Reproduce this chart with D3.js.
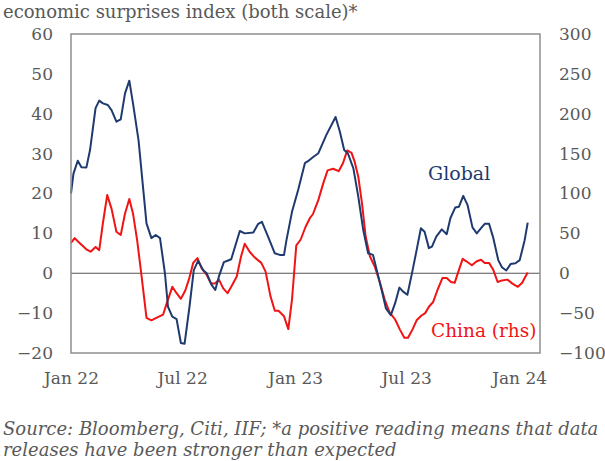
<!DOCTYPE html>
<html lang="en">
<head>
    <meta charset="UTF-8">
    <title>economic surprises index</title>
    <style>
        body { margin: 0; background: #fff; }
        svg { display: block; }
    </style>
</head>
<body>
    <script src="https://d3js.org/d3.v7.min.js"></script>
    <script>
        // Global surprise index (left axis)
        const globalDates = ['2022-01-01', '2022-01-05', '2022-01-12', '2022-01-18', '2022-01-26', '2022-02-01',
            '2022-02-10', '2022-02-16', '2022-02-22', '2022-03-02', '2022-03-08', '2022-03-16', '2022-03-23',
            '2022-03-30', '2022-04-06', '2022-04-12', '2022-04-21', '2022-05-04', '2022-05-12', '2022-05-19',
            '2022-05-26', '2022-06-03', '2022-06-08', '2022-06-15', '2022-06-22', '2022-06-29', '2022-07-05',
            '2022-07-13', '2022-07-20', '2022-07-27', '2022-08-04', '2022-08-10', '2022-08-18', '2022-08-24',
            '2022-08-30', '2022-09-07', '2022-09-14', '2022-09-19', '2022-10-03', '2022-10-11', '2022-10-25',
            '2022-11-02', '2022-11-08', '2022-11-18', '2022-11-29', '2022-12-07', '2022-12-14', '2022-12-18',
            '2022-12-27', '2023-01-06', '2023-01-17', '2023-01-22', '2023-01-30', '2023-02-08', '2023-02-21',
            '2023-03-08', '2023-03-15', '2023-03-22', '2023-03-28', '2023-04-06', '2023-04-14', '2023-04-22',
            '2023-04-30', '2023-05-08', '2023-05-14', '2023-05-22', '2023-05-29', '2023-06-06', '2023-06-13',
            '2023-06-20', '2023-06-26', '2023-07-03', '2023-07-11', '2023-07-18', '2023-07-25', '2023-07-31',
            '2023-08-07', '2023-08-12', '2023-08-19', '2023-08-28', '2023-09-05', '2023-09-11', '2023-09-19',
            '2023-09-25', '2023-10-02', '2023-10-09', '2023-10-17', '2023-10-24', '2023-11-01', '2023-11-06',
            '2023-11-13', '2023-11-20', '2023-11-28', '2023-12-04', '2023-12-11', '2023-12-18', '2023-12-26',
            '2024-01-02', '2024-01-10', '2024-01-15'];
        const globalValues = [20.0, 25.0, 28.2, 26.6, 26.5, 30.9,
            41.4, 43.3, 42.6, 42.2, 40.9, 38.0, 38.6,
            45.1, 48.3, 42.6, 33.4, 12.5, 8.8, 9.6,
            8.8, 0.0, -8.4, -10.9, -11.5, -17.5, -17.7,
            -8.4, 0.8, 3.1, 0.8, 0.0, -2.9, -4.2,
            -0.8, 2.8, 3.2, 3.5, 10.6, 10.0, 10.2,
            12.4, 12.9, 9.2, 5.0, 4.6, 4.6, 8.3,
            15.4, 20.9, 27.6, 28.1, 29.1, 30.1, 34.7,
            39.2, 35.5, 30.9, 30.1, 26.3, 19.2, 10.9,
            5.0, 4.6, 0.8, -4.2, -8.8, -10.5, -7.5,
            -3.6, -4.6, -5.4, 0.4, 5.8, 11.3, 10.4,
            6.3, 6.7, 9.2, 11.0, 9.8, 13.8, 16.5,
            16.7, 19.4, 17.1, 11.5, 10.0, 11.5, 12.4,
            12.4, 8.8, 3.3, 1.5, 0.7, 2.3, 2.5,
            3.3, 8.3, 12.7];

        // China surprise index (right axis)
        const chinaDates = ['2022-01-01', '2022-01-07', '2022-01-15', '2022-01-26', '2022-02-02', '2022-02-10',
            '2022-02-16', '2022-02-22', '2022-03-01', '2022-03-08', '2022-03-16', '2022-03-23', '2022-03-30',
            '2022-04-06', '2022-04-12', '2022-04-19', '2022-04-26', '2022-05-04', '2022-05-12', '2022-05-20',
            '2022-05-31', '2022-06-05', '2022-06-15', '2022-06-22', '2022-06-29', '2022-07-06', '2022-07-12',
            '2022-07-19', '2022-07-26', '2022-08-02', '2022-08-10', '2022-08-17', '2022-08-23', '2022-08-30',
            '2022-09-06', '2022-09-13', '2022-09-19', '2022-09-28', '2022-10-05', '2022-10-11', '2022-10-19',
            '2022-10-27', '2022-11-07', '2022-11-14', '2022-11-22', '2022-11-29', '2022-12-05', '2022-12-14',
            '2022-12-21', '2022-12-27', '2023-01-03', '2023-01-10', '2023-01-18', '2023-01-25', '2023-01-30',
            '2023-02-08', '2023-02-16', '2023-02-23', '2023-03-04', '2023-03-13', '2023-03-20', '2023-03-27',
            '2023-04-03', '2023-04-08', '2023-04-14', '2023-04-20', '2023-04-26', '2023-05-03', '2023-05-11',
            '2023-05-19', '2023-05-27', '2023-06-04', '2023-06-13', '2023-06-21', '2023-06-28', '2023-07-04',
            '2023-07-11', '2023-07-18', '2023-07-26', '2023-08-01', '2023-08-07', '2023-08-14', '2023-08-21',
            '2023-08-29', '2023-09-05', '2023-09-12', '2023-09-18', '2023-09-24', '2023-10-01', '2023-10-07',
            '2023-10-16', '2023-10-24', '2023-10-31', '2023-11-06', '2023-11-13', '2023-11-20', '2023-11-27',
            '2023-12-04', '2023-12-13', '2023-12-21', '2023-12-30', '2024-01-06', '2024-01-10', '2024-01-15'];
        const chinaValues = [38, 44, 38, 30, 27, 33,
            29, 63, 98, 81, 52, 48, 75,
            93, 75, 40, -4, -56, -59, -56,
            -52, -40, -17, -25, -32, -22, -8,
            13, 19, 6, -2, -13, -13, -8,
            -19, -25, -17, -4, 21, 37, 27,
            20, 13, 2, -29, -47, -47, -54,
            -70, -33, 35, 42, 58, 69, 74,
            92, 113, 129, 131, 128, 138, 154,
            151, 140, 121, 88, 46, 21, 8,
            -11, -33, -49, -58, -71, -81, -81,
            -71, -59, -53, -50, -42, -36, -21,
            -6, -6, -11, -12, 2, 18, 15,
            10, 15, 17, 13, 13, 4, -11,
            -9, -8, -13, -17, -12, -6, 1];

        const leftTicks = [-20, -10, 0, 10, 20, 30, 40, 50, 60];
        const rightTicks = [-100, -50, 0, 50, 100, 150, 200, 250, 300];
        const xTickDates = ['2022-01-01', '2022-07-01', '2023-01-01', '2023-07-01', '2024-01-01'];
        const xTickLabels = ['Jan 22', 'Jul 22', 'Jan 23', 'Jul 23', 'Jan 24'];

        const width = 605;
        const height = 461;
        const plot = { left: 71, right: 540, top: 34, bottom: 353 };
        const font = "'DejaVu Serif', Georgia, serif";
        const grey = '#595959';
        const navy = '#1f3a6e';
        const red = '#f01414';

        const parse = d3.timeParse('%Y-%m-%d');

        const svg = d3.select('body').append('svg')
            .attr('width', width)
            .attr('height', height);

        const x = d3.scaleTime()
            .domain([parse('2022-01-01'), parse('2024-02-04')])
            .range([plot.left, plot.right]);
        const yLeft = d3.scaleLinear().domain([-20, 60]).range([plot.bottom, plot.top]);
        const yRight = d3.scaleLinear().domain([-100, 300]).range([plot.bottom, plot.top]);

        // title
        svg.append('text')
            .attr('x', 3).attr('y', 18)
            .attr('font-family', font).attr('font-size', 18)
            .attr('fill', grey)
            .text('economic surprises index (both scale)*');

        // axes (labels only, no tick marks)
        const leftAxis = svg.append('g')
            .attr('transform', `translate(${plot.left},0)`)
            .call(d3.axisLeft(yLeft).tickValues(leftTicks).tickSize(0).tickPadding(18));
        const rightAxis = svg.append('g')
            .attr('transform', `translate(${plot.right},0)`)
            .call(d3.axisRight(yRight).tickValues(rightTicks).tickSize(0).tickPadding(19));
        const bottomAxis = svg.append('g')
            .attr('transform', `translate(0,${plot.bottom})`)
            .call(d3.axisBottom(x).tickValues(xTickDates.map(parse))
                .tickFormat((d, i) => xTickLabels[i]).tickSize(0).tickPadding(19));

        [leftAxis, rightAxis, bottomAxis].forEach(g => {
            g.select('.domain').remove();
            g.selectAll('text')
                .attr('font-family', font)
                .attr('font-size', 17)
                .attr('fill', grey);
        });

        // zero line
        svg.append('line')
            .attr('x1', plot.left).attr('x2', plot.right)
            .attr('y1', yLeft(0)).attr('y2', yLeft(0))
            .attr('stroke', '#555').attr('stroke-width', 1.2);

        // series
        const globalData = globalDates.map((d, i) => ({ date: parse(d), value: globalValues[i] }));
        const chinaData = chinaDates.map((d, i) => ({ date: parse(d), value: chinaValues[i] }));

        svg.append('path')
            .datum(chinaData)
            .attr('fill', 'none')
            .attr('stroke', red)
            .attr('stroke-width', 2)
            .attr('stroke-linejoin', 'round')
            .attr('d', d3.line().x(d => x(d.date)).y(d => yRight(d.value)));

        svg.append('path')
            .datum(globalData)
            .attr('fill', 'none')
            .attr('stroke', navy)
            .attr('stroke-width', 2)
            .attr('stroke-linejoin', 'round')
            .attr('d', d3.line().x(d => x(d.date)).y(d => yLeft(d.value)));

        // frame
        svg.append('rect')
            .attr('x', plot.left).attr('y', plot.top)
            .attr('width', plot.right - plot.left)
            .attr('height', plot.bottom - plot.top)
            .attr('fill', 'none')
            .attr('stroke', '#8f8f8f')
            .attr('stroke-width', 1.5);

        // series labels
        svg.append('text')
            .attr('x', 428).attr('y', 180)
            .attr('font-family', font).attr('font-size', 19)
            .attr('fill', navy)
            .text('Global');
        svg.append('text')
            .attr('x', 431).attr('y', 337)
            .attr('font-family', font).attr('font-size', 18.5)
            .attr('fill', red)
            .text('China (rhs)');

        // source note
        const note = svg.append('text')
            .attr('font-family', font).attr('font-size', 18)
            .attr('font-style', 'italic')
            .attr('fill', grey);
        note.append('tspan').attr('x', 3).attr('y', 435)
            .text('Source: Bloomberg, Citi, IIF; *a positive reading means that data');
        note.append('tspan').attr('x', 3).attr('y', 456)
            .text('releases have been stronger than expected');
    </script>
</body>
</html>
